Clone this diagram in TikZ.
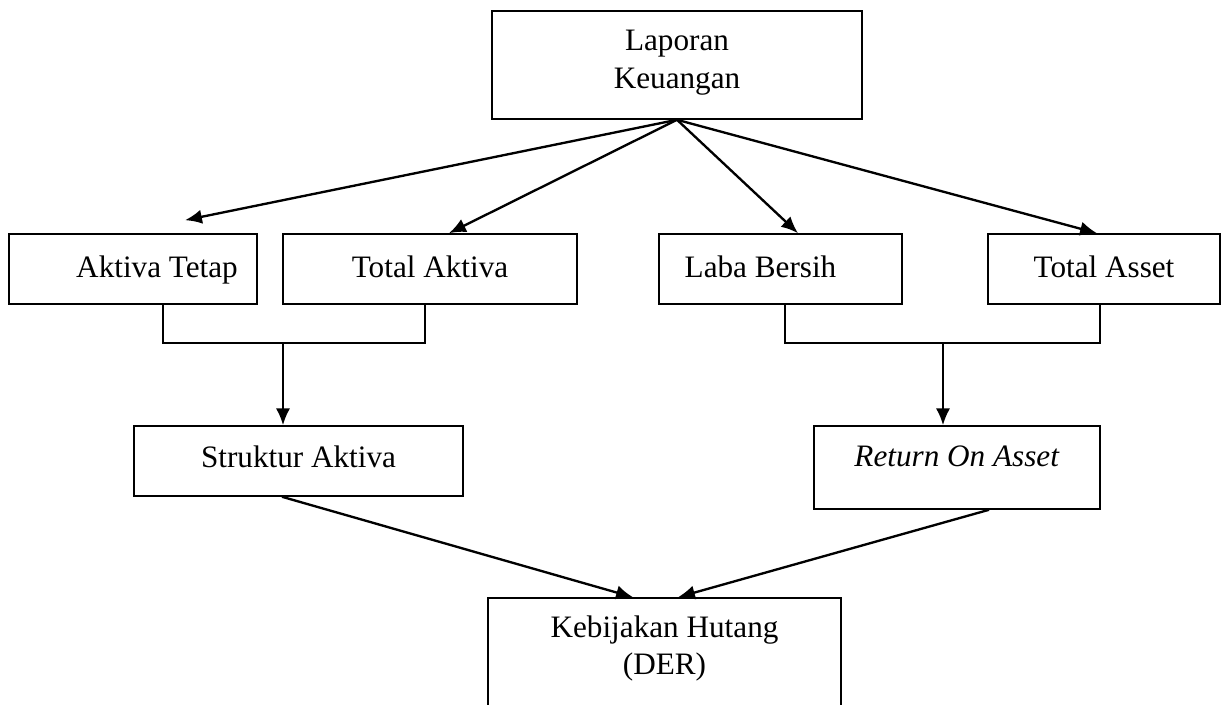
\documentclass[tikz,border=0pt]{standalone}
\usepackage{fontspec}
\setmainfont{Liberation Serif}
\usetikzlibrary{arrows.meta,calc}

\begin{document}
\begin{tikzpicture}[
    x=0.013522cm, y=-0.013522cm,
    block/.style={
        draw=black, line width=0.6pt,
        inner sep=0pt, align=center,
        font=\fontsize{12}{14.5}\selectfont
    },
    rowblock/.style={
        block, text height=0.595cm, text depth=0.352cm
    },
    flow/.style={
        -{Latex[length=6.5pt,width=5.5pt]}, line width=0.9pt
    },
    bracket/.style={
        line width=0.6pt
    }
]
\useasboundingbox (0,0) rectangle (1227,704);

% ====== SUMBER ======
\node[block, minimum width=5.003cm, text height=1.041cm, text depth=0.419cm]
    (lapkeu) at (677,65) {Laporan\\Keuangan};

% ====== POS LAPORAN ======
\node[rowblock, minimum width=3.353cm] (aktivatetap) at (133,269)    {\hspace*{0.649cm}Aktiva Tetap};
\node[rowblock, minimum width=3.975cm] (totalaktiva) at (430,269)    {Total Aktiva};
\node[rowblock, minimum width=3.286cm] (lababersih)  at (780.5,269)  {Laba Bersih\hspace*{0.541cm}};
\node[rowblock, minimum width=3.137cm] (totalasset)  at (1104,269)   {Total Asset};

% ====== RASIO ======
\node[block, minimum width=4.449cm, text height=0.554cm, text depth=0.392cm]
    (struktur) at (298.5,461) {Struktur Aktiva};
\node[block, minimum width=3.867cm, text height=0.541cm, text depth=0.581cm]
    (roa) at (957,467.5) {\textit{Return On Asset}};

% ====== VARIABEL TERIKAT ======
\node[block, minimum width=4.773cm, text height=1.041cm, text depth=0.636cm]
    (der) at (664.5,660) {Kebijakan Hutang\\(DER)};

% ====== PANAH ======
\foreach \t/\dx/\dy in {aktivatetap/52/-13, totalaktiva/19/0, lababersih/17.5/0, totalasset/-7/0}
    \draw[flow] (lapkeu.south) -- ($(\t.north)+(\dx,\dy)$);

% gabungan kiri
\draw[bracket] ($(aktivatetap.south)+(30,0)$) -- ++(0,38) -| ($(totalaktiva.south)+(-5,0)$);
\coordinate (jointl) at (283,342);
\draw[flow] (jointl) -- (jointl |- struktur.north);

% gabungan kanan
\draw[bracket] ($(lababersih.south)+(4.5,0)$) -- ++(0,38) -| ($(totalasset.south)+(-4,0)$);
\coordinate (jointr) at (943,342);
\draw[flow] (jointr) -- (jointr |- roa.north);

% ke DER
\draw[flow] ($(struktur.south)+(-16.5,0)$) -- ($(der.north)+(-31.5,0)$);
\draw[flow] ($(roa.south)+(32,0)$) -- ($(der.north)+(13.5,0)$);

\end{tikzpicture}
\end{document}
